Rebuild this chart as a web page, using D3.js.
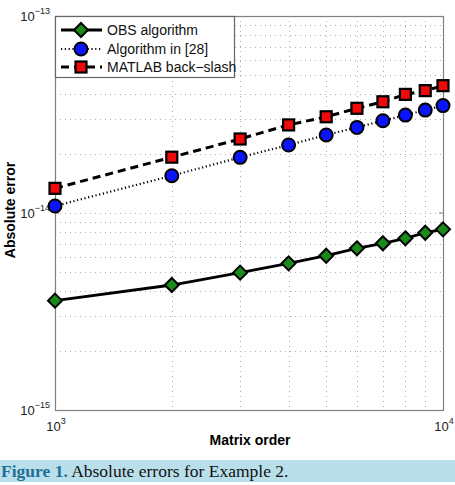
<!DOCTYPE html>
<html>
<head>
<meta charset="utf-8">
<script src="https://cdn.jsdelivr.net/npm/d3@7"></script>
<style>
  body { margin: 0; background: #fff; }
  svg { display: block; }
</style>
</head>
<body>
<svg id="chart" width="455" height="485"></svg>
<script>
// matrix orders
var orders = [1000, 2000, 3000, 4000, 5000, 6000, 7000, 8000, 9000, 10000];

// absolute errors
var obsErr = [3.59e-15, 4.31e-15, 4.98e-15, 5.55e-15, 6.07e-15, 6.62e-15, 7.02e-15, 7.44e-15, 7.94e-15, 8.26e-15];
var alg28Err = [1.085e-14, 1.546e-14, 1.917e-14, 2.214e-14, 2.489e-14, 2.72e-14, 2.94e-14, 3.14e-14, 3.33e-14, 3.51e-14];
var matlabErr = [1.334e-14, 1.92e-14, 2.375e-14, 2.80e-14, 3.08e-14, 3.40e-14, 3.67e-14, 4.00e-14, 4.18e-14, 4.43e-14];

var seriesNames = ['OBS algorithm', 'Algorithm in [28]', 'MATLAB back\u2212slash'];
var xTickExp = [3, 4];
var yTickExp = [-15, -14, -13];

var plot = {left: 55, right: 443, top: 16, bottom: 410};

var svg = d3.select('#chart');

var x = d3.scaleLog().domain([1e3, 1e4]).range([plot.left, plot.right]);
var y = d3.scaleLog().domain([1e-15, 1e-13]).range([plot.bottom, plot.top]);

// grid lines (dotted) at every decade step
var xGrid = d3.range(2, 10).map(d => d * 1e3);
var yGrid = d3.range(2, 10).map(d => d * 1e-15)
  .concat([1e-14])
  .concat(d3.range(2, 10).map(d => d * 1e-14));

var grid = svg.append('g')
  .attr('stroke', '#b0b0b0')
  .attr('stroke-width', 1)
  .attr('stroke-dasharray', '1,4');

grid.selectAll('.gx')
  .data(xGrid)
  .enter()
  .append('line')
  .attr('x1', d => Math.round(x(d)) + 0.5)
  .attr('x2', d => Math.round(x(d)) + 0.5)
  .attr('y1', plot.top)
  .attr('y2', plot.bottom);

grid.selectAll('.gy')
  .data(yGrid)
  .enter()
  .append('line')
  .attr('x1', plot.left)
  .attr('x2', plot.right)
  .attr('y1', d => Math.round(y(d)) + 0.5)
  .attr('y2', d => Math.round(y(d)) + 0.5);

// tick labels (10^n)
function powLabel(g, exp, px, py, anchor)
{
  var t = g.append('text')
    .attr('x', px)
    .attr('y', py)
    .attr('text-anchor', anchor)
    .attr('font-family', 'Liberation Sans, Arial, sans-serif')
    .attr('font-size', 13)
    .attr('fill', '#222');
  t.append('tspan').text('10');
  t.append('tspan').attr('dy', -7).attr('font-size', 9).text(exp < 0 ? '\u2212' + (-exp) : exp);
}

var labels = svg.append('g');
yTickExp.forEach(e => powLabel(labels, e, plot.left - 5, y(Math.pow(10, e)) + 5, 'end'));
xTickExp.forEach(e => powLabel(labels, e, x(Math.pow(10, e)) + 1, plot.bottom + 21, 'middle'));

// frame
svg.append('rect')
  .attr('x', plot.left + 0.5)
  .attr('y', plot.top + 0.5)
  .attr('width', plot.right - plot.left)
  .attr('height', plot.bottom - plot.top)
  .attr('fill', 'none')
  .attr('stroke', '#808080')
  .attr('stroke-width', 1.2);

// small inside ticks at the decades
[1e-14].forEach(v => {
  svg.append('line').attr('x1', plot.left).attr('x2', plot.left + 4)
    .attr('y1', y(v)).attr('y2', y(v)).attr('stroke', '#808080');
  svg.append('line').attr('x1', plot.right - 4).attr('x2', plot.right)
    .attr('y1', y(v)).attr('y2', y(v)).attr('stroke', '#808080');
});

// axis titles
svg.append('text')
  .attr('x', 250)
  .attr('y', 445)
  .attr('text-anchor', 'middle')
  .attr('font-family', 'Liberation Sans, Arial, sans-serif')
  .attr('font-weight', 'bold')
  .attr('font-size', 14)
  .text('Matrix order');

svg.append('text')
  .attr('transform', 'translate(15,' + (y(1e-14) - 3) + ') rotate(-90)')
  .attr('text-anchor', 'middle')
  .attr('font-family', 'Liberation Sans, Arial, sans-serif')
  .attr('font-weight', 'bold')
  .attr('font-size', 14)
  .text('Absolute error');

// series
var series = [
  {name: seriesNames[0], values: obsErr, dash: null, width: 2.8, marker: 'diamond', fill: '#1a8a1a'},
  {name: seriesNames[1], values: alg28Err, dash: '1.2,2.6', width: 2.2, marker: 'circle', fill: '#0a14ff'},
  {name: seriesNames[2], values: matlabErr, dash: '8,5', width: 3, marker: 'square', fill: '#ee0a0a'}
];

var line = d3.line().x(d => x(d[0])).y(d => y(d[1]));

function drawMarker(g, type, cx, cy, fill)
{
  if (type === 'circle')
  {
    g.append('circle').attr('cx', cx).attr('cy', cy).attr('r', 6.5)
      .attr('fill', fill).attr('stroke', '#000').attr('stroke-width', 2);
  }
  else if (type === 'square')
  {
    g.append('rect').attr('x', cx - 5.5).attr('y', cy - 5.5).attr('width', 11).attr('height', 11)
      .attr('fill', fill).attr('stroke', '#000').attr('stroke-width', 2.2);
  }
  else
  {
    var s = 7;
    g.append('path')
      .attr('d', 'M' + cx + ',' + (cy - s) + 'L' + (cx + s) + ',' + cy + 'L' + cx + ',' + (cy + s) + 'L' + (cx - s) + ',' + cy + 'Z')
      .attr('fill', fill).attr('stroke', '#000').attr('stroke-width', 2);
  }
}

series.forEach(s => {
  var pts = orders.map((o, i) => [o, s.values[i]]);
  svg.append('path')
    .datum(pts)
    .attr('d', line)
    .attr('fill', 'none')
    .attr('stroke', '#000')
    .attr('stroke-width', s.width)
    .attr('stroke-dasharray', s.dash);
  var g = svg.append('g');
  pts.forEach(p => drawMarker(g, s.marker, x(p[0]), y(p[1]), s.fill));
});

// legend
var lg = svg.append('g');
lg.append('rect')
  .attr('x', plot.left + 0.5)
  .attr('y', plot.top + 0.5)
  .attr('width', 179)
  .attr('height', 61)
  .attr('fill', '#fff')
  .attr('stroke', '#666')
  .attr('stroke-width', 1.2);

var legendRows = [30, 49, 67];
series.forEach((s, i) => {
  var ly = legendRows[i];
  lg.append('line')
    .attr('x1', 61).attr('x2', 102)
    .attr('y1', ly).attr('y2', ly)
    .attr('stroke', '#000')
    .attr('stroke-width', s.width)
    .attr('stroke-dasharray', s.dash);
  drawMarker(lg, s.marker, 81, ly, s.fill);
  lg.append('text')
    .attr('x', 107)
    .attr('y', ly + 5)
    .attr('font-family', 'Liberation Sans, Arial, sans-serif')
    .attr('font-size', 14)
    .attr('fill', '#111')
    .text(s.name);
});

// caption band
svg.append('rect')
  .attr('x', 0).attr('y', 460)
  .attr('width', 455).attr('height', 22)
  .attr('fill', '#b9dfeb');

var cap = svg.append('text')
  .attr('x', 1)
  .attr('y', 477)
  .attr('font-family', 'Liberation Serif, Times New Roman, serif')
  .attr('font-size', 17.5);
cap.append('tspan').attr('font-weight', 'bold').attr('fill', '#1f6f96').text('Figure 1.');
cap.append('tspan').attr('fill', '#111').text(' Absolute errors for Example 2.');
</script>
</body>
</html>
